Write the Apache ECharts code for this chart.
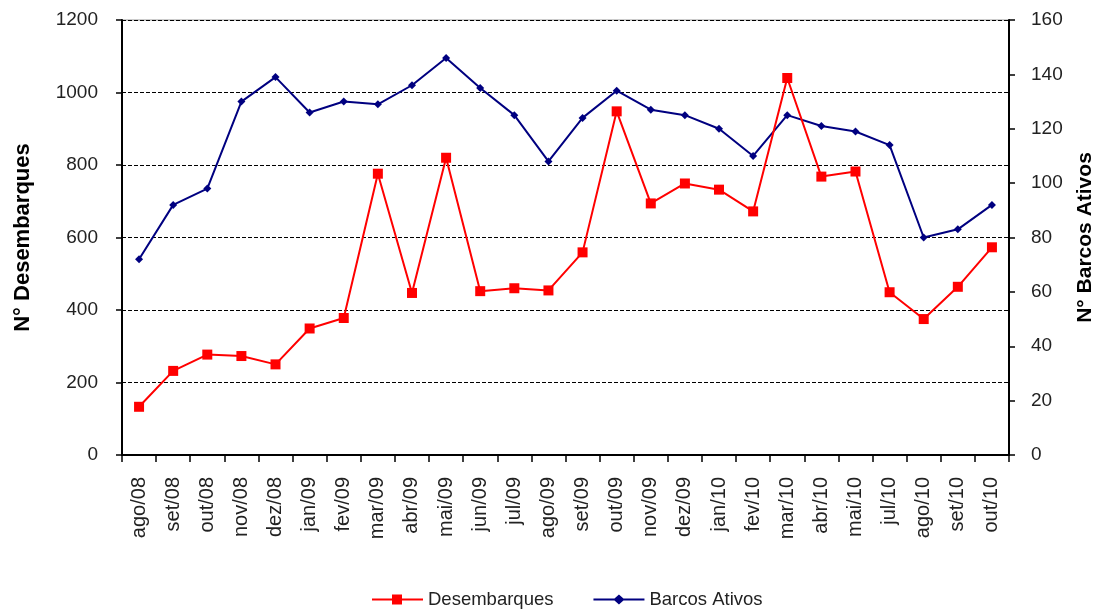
<!DOCTYPE html>
<html>
<head>
<meta charset="utf-8">
<script src="https://cdn.jsdelivr.net/npm/echarts@6/dist/echarts.min.js"></script>
<style>
html,body{margin:0;padding:0;background:#fff;}
#chart{width:1096px;height:609px;}
</style>
</head>
<body>
<div id="chart"></div>
<script>
var categories = ['ago/08','set/08','out/08','nov/08','dez/08','jan/09','fev/09','mar/09','abr/09','mai/09','jun/09','jul/09','ago/09','set/09','out/09','nov/09','dez/09','jan/10','fev/10','mar/10','abr/10','mai/10','jul/10','ago/10','set/10','out/10'];
var desembarques = [133,232,277,273,250,349,378,776,447,820,452,460,454,559,948,694,749,732,672,1040,768,782,449,375,464,573];
var barcosAtivos = [72,92,98,130,139,126,130,129,136,146,135,125,108,124,134,127,125,120,110,125,121,119,114,80,83,92];
var leftTicks = [0,200,400,600,800,1000,1200];
var rightTicks = [0,20,40,60,80,100,120,140,160];

var chart = echarts.init(document.getElementById('chart'));
var font = 'Liberation Sans, Arial, sans-serif';
var txt = '#222';
chart.setOption({
  animation: false,
  backgroundColor: '#fff',
  grid: {left: 122, right: 87, top: 20, bottom: 154, show: true, borderColor: '#999', borderWidth: 1, backgroundColor: 'transparent', containLabel: false, outerBoundsMode: 'none'},
  legend: {
    top: 590, left: 372, padding: 0,
    itemWidth: 51, itemHeight: 12, itemGap: 40,
    textStyle: {fontFamily: font, fontSize: 18.5, color: txt},
    data: [
      {name: 'Desembarques', icon: 'path://M0,5 L20,5 L20,1 L30,1 L30,5 L51,5 L51,7 L30,7 L30,11 L20,11 L20,7 L0,7 Z'},
      {name: 'Barcos Ativos', icon: 'path://M0,5 L21,5 L25.5,1 L30,5 L51,5 L51,7 L30,7 L25.5,11 L21,7 L0,7 Z'}
    ]
  },
  xAxis: {
    type: 'category',
    data: categories,
    boundaryGap: true,
    axisLine: {lineStyle: {color: '#000', width: 2}},
    axisTick: {show: true, length: 7, lineStyle: {color: '#000', width: 1.5}},
    axisLabel: {rotate: 90, fontFamily: font, fontSize: 20, color: txt, margin: 22, interval: 0}
  },
  yAxis: [
    {
      type: 'value', min: 0, max: 1200, interval: 200,
      name: 'N° Desembarques', nameLocation: 'middle', nameGap: 88, nameRotate: 90,
      nameTextStyle: {fontFamily: font, fontSize: 22, fontWeight: 'bold', color: '#000'},
      axisLine: {show: true, lineStyle: {color: '#000', width: 2}},
      axisTick: {show: true, length: 6, lineStyle: {color: '#000', width: 1.5}},
      axisLabel: {fontFamily: font, fontSize: 19, color: txt, margin: 24, formatter: function(v){return String(v);}},
      splitLine: {show: true, lineStyle: {color: '#000', type: [4, 2], width: 1}}
    },
    {
      type: 'value', min: 0, max: 160, interval: 20,
      name: 'N° Barcos Ativos', nameLocation: 'middle', nameGap: 66, nameRotate: 90,
      nameTextStyle: {fontFamily: font, fontSize: 21, fontWeight: 'bold', color: '#000'},
      axisLine: {show: true, lineStyle: {color: '#000', width: 2}},
      axisTick: {show: true, length: 6, lineStyle: {color: '#000', width: 1.5}},
      axisLabel: {fontFamily: font, fontSize: 19, color: txt, margin: 22},
      splitLine: {show: false}
    }
  ],
  series: [
    {
      name: 'Desembarques', type: 'line', yAxisIndex: 0, data: desembarques,
      symbol: 'rect', symbolSize: 10,
      lineStyle: {color: '#ff0000', width: 2},
      itemStyle: {color: '#ff0000'}, z: 3
    },
    {
      name: 'Barcos Ativos', type: 'line', yAxisIndex: 1, data: barcosAtivos,
      symbol: 'diamond', symbolSize: 8,
      lineStyle: {color: '#000080', width: 2},
      itemStyle: {color: '#000080'}, z: 2
    }
  ]
});
</script>
</body>
</html>
